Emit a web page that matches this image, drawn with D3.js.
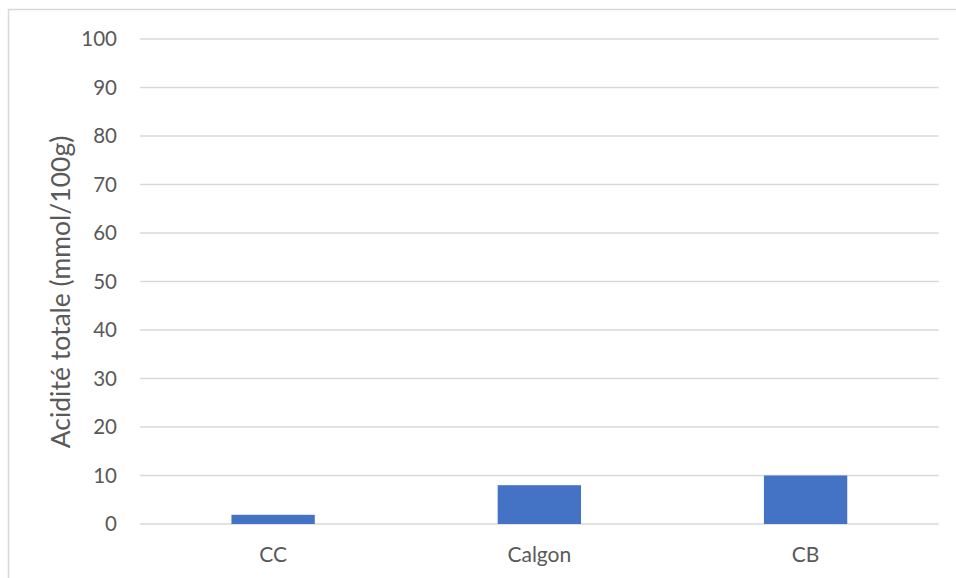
<!DOCTYPE html>
<html>
<head>
<meta charset="utf-8">
<script src="https://cdn.jsdelivr.net/npm/d3@7"></script>
<style>
  html, body { margin: 0; padding: 0; background: #fff; }
  svg { display: block; }
  text { font-family: Lato, "Open Sans", sans-serif; fill: #595959; }
</style>
</head>
<body>
<svg id="chart" width="956" height="578"></svg>
<script>
// Total acidity per sample
const categories = ["CC", "Calgon", "CB"];
const values = [1.9, 8, 10];
const yTicks = [0, 10, 20, 30, 40, 50, 60, 70, 80, 90, 100];
const yTitle = "Acidité totale (mmol/100g)";

const W = 956, H = 578;
const plot = { left: 140, right: 938.7, top: 39, bottom: 524 };

const svg = d3.select("#chart");

// Outer chart frame
svg.append("rect")
  .attr("x", 8.5).attr("y", 9.5)
  .attr("width", W + 20).attr("height", H + 20)
  .attr("fill", "none")
  .attr("stroke", "#D9D9D9")
  .attr("stroke-width", 1.5);

const x = d3.scaleBand()
  .domain(categories)
  .range([plot.left, plot.right])
  .padding(0);

const y = d3.scaleLinear()
  .domain([0, 100])
  .range([plot.bottom, plot.top]);

// Horizontal gridlines
svg.append("g")
  .selectAll("line")
  .data(yTicks)
  .join("line")
  .attr("x1", plot.left)
  .attr("x2", plot.right)
  .attr("y1", d => y(d))
  .attr("y2", d => y(d))
  .attr("stroke", "#D9D9D9")
  .attr("stroke-width", 1.3);

// Y tick labels
svg.append("g")
  .selectAll("text")
  .data(yTicks)
  .join("text")
  .attr("x", 117)
  .attr("y", d => y(d))
  .attr("dy", "0.36em")
  .attr("text-anchor", "end")
  .attr("font-size", "20.5px")
  .text(d => d);

// Bars
const barFrac = 0.313;
const barW = x.bandwidth() * barFrac;
svg.append("g")
  .selectAll("rect")
  .data(values)
  .join("rect")
  .attr("x", (d, i) => x(categories[i]) + (x.bandwidth() - barW) / 2)
  .attr("y", d => y(d))
  .attr("width", barW)
  .attr("height", d => y(0) - y(d))
  .attr("fill", "#4472C4");

// Category labels
svg.append("g")
  .selectAll("text")
  .data(categories)
  .join("text")
  .attr("x", d => x(d) + x.bandwidth() / 2)
  .attr("y", 561.5)
  .attr("text-anchor", "middle")
  .attr("font-size", "21px")
  .text(d => d);

// Y axis title
svg.append("text")
  .attr("transform", "translate(70,292) rotate(-90)")
  .attr("text-anchor", "middle")
  .attr("font-size", "26.5px")
  .text(yTitle);
</script>
</body>
</html>
